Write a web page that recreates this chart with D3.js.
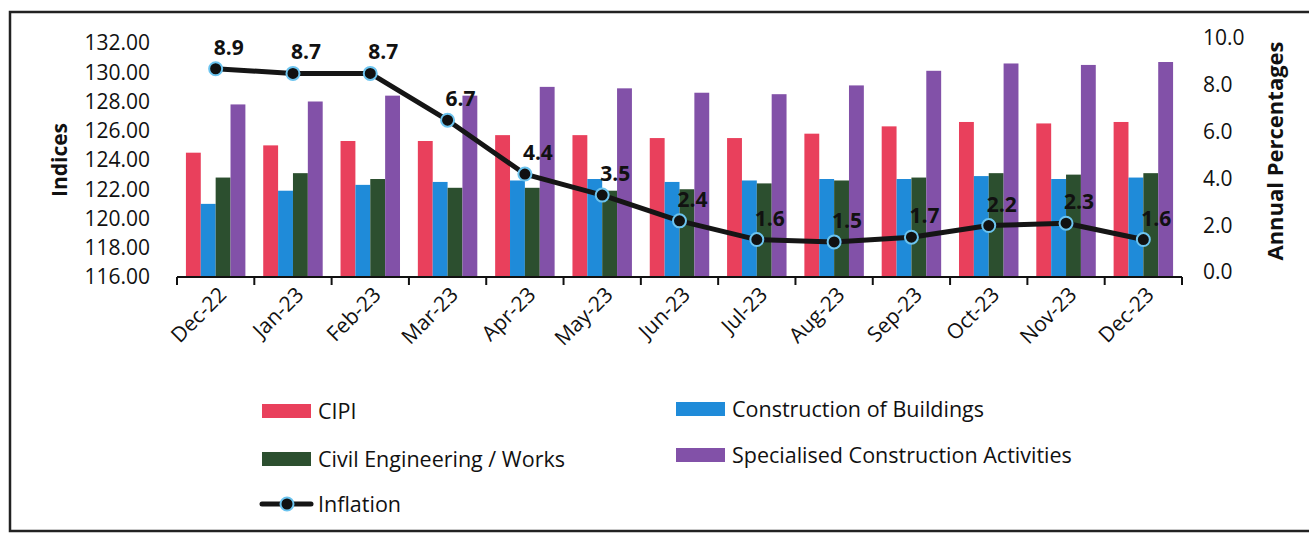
<!DOCTYPE html>
<html>
<head>
<meta charset="utf-8">
<script src="https://cdn.jsdelivr.net/npm/d3@7"></script>
<style>
  body { margin: 0; background: #fff; }
  text { font-family: "Open Sans", Lato, sans-serif; fill: #111; }
  .tick-label { font-size: 21px; }
  .x-label { font-size: 21px; }
  .axis-title { font-size: 21px; font-weight: bold; }
  .point-label { font-size: 21px; font-weight: bold; }
  .legend-text { font-size: 21.5px; }
</style>
</head>
<body>
<div id="chart"></div>
<script>
// chart data
let months = ["Dec-22", "Jan-23", "Feb-23", "Mar-23", "Apr-23", "May-23", "Jun-23",
              "Jul-23", "Aug-23", "Sep-23", "Oct-23", "Nov-23", "Dec-23"];
let cipi      = [124.5, 125.0, 125.3, 125.3, 125.7, 125.7, 125.5, 125.5, 125.8, 126.3, 126.6, 126.5, 126.6];
let buildings = [121.0, 121.9, 122.3, 122.5, 122.6, 122.7, 122.5, 122.6, 122.7, 122.7, 122.9, 122.7, 122.8];
let civil     = [122.8, 123.1, 122.7, 122.1, 122.1, 121.9, 122.0, 122.4, 122.6, 122.8, 123.1, 123.0, 123.1];
let special   = [127.8, 128.0, 128.4, 128.4, 129.0, 128.9, 128.6, 128.5, 129.1, 130.1, 130.6, 130.5, 130.7];
let inflation = [8.9, 8.7, 8.7, 6.7, 4.4, 3.5, 2.4, 1.6, 1.5, 1.7, 2.2, 2.3, 1.6];

let leftTicks  = [116, 118, 120, 122, 124, 126, 128, 130, 132];
let rightTicks = [0, 2, 4, 6, 8, 10];

let seriesNames  = ["CIPI", "Construction of Buildings", "Civil Engineering / Works", "Specialised Construction Activities"];
let seriesColors = ["#e9405c", "#1f8bd9", "#2c4f2f", "#8251a8"];
let series = [cipi, buildings, civil, special];

let totalWidth = 1309, totalHeight = 533;
let plot = {left: 177, right: 1182, top: 43, bottom: 277};

let svg = d3.select("#chart").append("svg")
    .attr("width", totalWidth)
    .attr("height", totalHeight);

// frame around the whole chart
svg.append("path")
    .attr("d", `M1320,12 L10,12 L10,531 L1320,531`)
    .attr("fill", "none")
    .attr("stroke", "#222")
    .attr("stroke-width", 2.5);

let xScale = d3.scaleBand()
    .domain(months)
    .range([plot.left, plot.right]);

let innerScale = d3.scaleBand()
    .domain(d3.range(series.length))
    .range([0, xScale.bandwidth()])
    .paddingOuter(0.6)
    .paddingInner(0);

let yLeft = d3.scaleLinear()
    .domain([116, 132])
    .range([plot.bottom, plot.top]);

let yRight = d3.scaleLinear()
    .domain([0, 10])
    .range([plot.bottom, plot.top]);

// bars
series.forEach((vals, si) => {
    svg.append("g")
        .selectAll("rect")
        .data(vals)
        .enter()
        .append("rect")
        .attr("x", (d, i) => xScale(months[i]) + innerScale(si))
        .attr("y", d => yLeft(d))
        .attr("width", innerScale.bandwidth())
        .attr("height", d => plot.bottom - yLeft(d))
        .attr("fill", seriesColors[si]);
});

// x axis with ticks between categories
let xAxisG = svg.append("g")
    .attr("transform", "translate(0," + plot.bottom + ")");
xAxisG.append("line")
    .attr("x1", plot.left).attr("x2", plot.right)
    .attr("stroke", "#111").attr("stroke-width", 2);
xAxisG.selectAll("line.tk")
    .data(months.concat(["end"]))
    .enter()
    .append("line")
    .attr("class", "tk")
    .attr("x1", (d, i) => plot.left + i * xScale.step())
    .attr("x2", (d, i) => plot.left + i * xScale.step())
    .attr("y1", 0).attr("y2", 8)
    .attr("stroke", "#111").attr("stroke-width", 2);

xAxisG.selectAll("text")
    .data(months)
    .enter()
    .append("text")
    .attr("class", "x-label")
    .attr("text-anchor", "end")
    .attr("transform", d => "translate(" + (xScale(d) + xScale.bandwidth() / 2 + 12) + ",19) rotate(-45)")
    .text(d => d);

// left axis labels
svg.append("g")
    .selectAll("text")
    .data(leftTicks)
    .enter()
    .append("text")
    .attr("class", "tick-label")
    .attr("x", 150)
    .attr("y", d => yLeft(d))
    .attr("dy", "0.35em")
    .attr("text-anchor", "end")
    .text(d => d3.format(".2f")(d));

// right axis labels
svg.append("g")
    .selectAll("text")
    .data(rightTicks)
    .enter()
    .append("text")
    .attr("class", "tick-label")
    .attr("x", 1203)
    .attr("y", d => yRight(d) - 5)
    .attr("dy", "0.35em")
    .attr("text-anchor", "start")
    .text(d => d3.format(".1f")(d));

svg.append("text")
    .attr("class", "axis-title")
    .attr("transform", "translate(67,160) rotate(-90)")
    .attr("text-anchor", "middle")
    .text("Indices");

svg.append("text")
    .attr("class", "axis-title")
    .attr("transform", "translate(1283,151) rotate(-90)")
    .attr("text-anchor", "middle")
    .style("font-size", "22px")
    .text("Annual Percentages");

// inflation line
let line = d3.line()
    .x((d, i) => xScale(months[i]) + xScale.bandwidth() / 2)
    .y(d => yRight(d));

svg.append("path")
    .datum(inflation)
    .attr("d", line)
    .attr("fill", "none")
    .attr("stroke", "#151515")
    .attr("stroke-width", 5)
    .attr("stroke-linejoin", "round");

svg.append("g")
    .selectAll("circle")
    .data(inflation)
    .enter()
    .append("circle")
    .attr("cx", (d, i) => xScale(months[i]) + xScale.bandwidth() / 2)
    .attr("cy", d => yRight(d))
    .attr("r", 6.5)
    .attr("fill", "#111")
    .attr("stroke", "#6cc4ef")
    .attr("stroke-width", 2);

svg.append("g")
    .selectAll("text")
    .data(inflation)
    .enter()
    .append("text")
    .attr("class", "point-label")
    .attr("x", (d, i) => xScale(months[i]) + xScale.bandwidth() / 2 + 13)
    .attr("y", d => yRight(d) - 14)
    .attr("text-anchor", "middle")
    .text(d => d3.format(".1f")(d));

// legend
let legendItems = [
    {name: seriesNames[0], color: seriesColors[0], x: 262, y: 411},
    {name: seriesNames[1], color: seriesColors[1], x: 676, y: 409},
    {name: seriesNames[2], color: seriesColors[2], x: 262, y: 459},
    {name: seriesNames[3], color: seriesColors[3], x: 676, y: 455}
];

let legend = svg.append("g");
legendItems.forEach(item => {
    legend.append("rect")
        .attr("x", item.x).attr("y", item.y - 7)
        .attr("width", 49).attr("height", 14)
        .attr("fill", item.color);
    legend.append("text")
        .attr("class", "legend-text")
        .attr("x", item.x + 56).attr("y", item.y)
        .attr("dy", "0.35em")
        .text(item.name);
});

legend.append("line")
    .attr("x1", 262).attr("x2", 311)
    .attr("y1", 504).attr("y2", 504)
    .attr("stroke", "#151515").attr("stroke-width", 5)
    .attr("stroke-linecap", "round");
legend.append("circle")
    .attr("cx", 287).attr("cy", 504).attr("r", 6.5)
    .attr("fill", "#111").attr("stroke", "#6cc4ef").attr("stroke-width", 2);
legend.append("text")
    .attr("class", "legend-text")
    .attr("x", 318).attr("y", 504)
    .attr("dy", "0.35em")
    .text("Inflation");
</script>
</body>
</html>
